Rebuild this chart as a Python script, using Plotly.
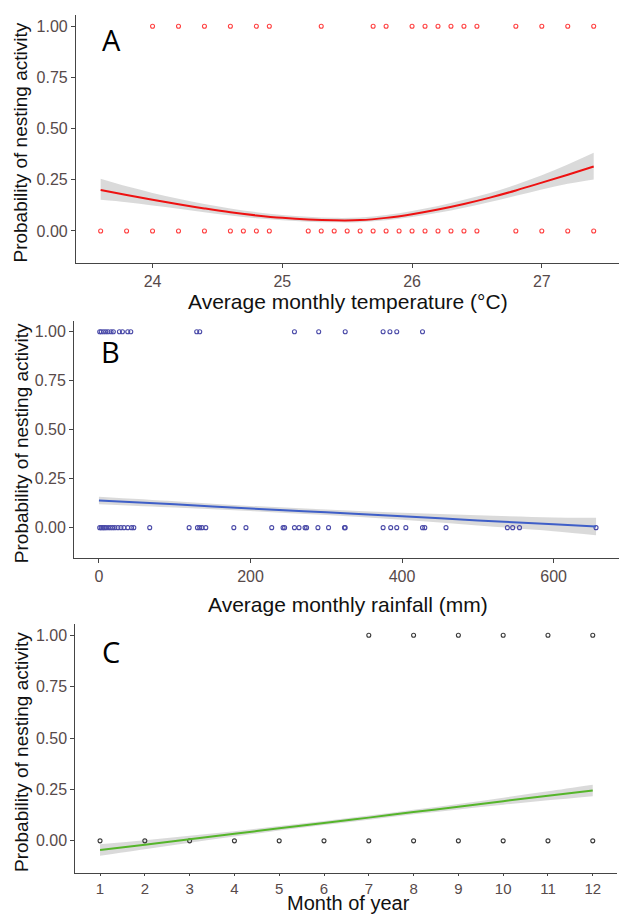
import plotly.graph_objects as go

# ---------------- data ----------------
# Panel A: temperature
A_top = [24.0, 24.2, 24.4, 24.6, 24.8, 24.9, 25.3, 25.7, 25.8, 26.0, 26.1, 26.2,
         26.3, 26.4, 26.5, 26.8, 27.0, 27.2, 27.4]
A_bottom = [23.6, 23.8, 24.0, 24.2, 24.4, 24.6, 24.7, 24.8, 24.9, 25.2, 25.3, 25.4,
            25.5, 25.6, 25.7, 25.8, 25.9, 26.0, 26.1, 26.2, 26.3, 26.4, 26.5, 26.8,
            27.0, 27.2, 27.4]
A_grid = [23.6, 23.8, 24.0, 24.2, 24.4, 24.6, 24.8, 25.0, 25.2, 25.4, 25.6, 25.8,
          26.0, 26.2, 26.4, 26.6, 26.8, 27.0, 27.2, 27.4]
A_fit = [0.200, 0.176, 0.153, 0.131, 0.110, 0.091, 0.076, 0.064, 0.056, 0.052,
         0.053, 0.064, 0.082, 0.105, 0.132, 0.163, 0.198, 0.236, 0.275, 0.315]
A_lo = [0.152, 0.140, 0.124, 0.108, 0.091, 0.075, 0.062, 0.052, 0.045, 0.042,
        0.043, 0.052, 0.068, 0.089, 0.114, 0.142, 0.172, 0.203, 0.231, 0.252]
A_hi = [0.255, 0.218, 0.186, 0.157, 0.132, 0.110, 0.092, 0.078, 0.069, 0.064,
        0.066, 0.078, 0.098, 0.122, 0.152, 0.185, 0.226, 0.272, 0.325, 0.382]

# Panel B: rainfall
B_top = [1, 3, 6, 9, 12, 16, 19, 27, 31, 38, 42, 129, 133, 258, 290, 325, 375,
         384, 393, 427]
B_bottom = [1, 3, 5, 7, 9, 12, 15, 18, 21, 25, 29, 33, 38, 43, 46, 67, 119, 130,
            133, 136, 141, 178, 194, 228, 243, 245, 258, 264, 272, 274, 289, 303,
            324, 325, 375, 385, 393, 405, 427, 430, 458, 539, 546, 555, 656]
B_grid = [0, 100, 200, 300, 400, 500, 600, 656]
B_fit = [0.139, 0.119, 0.098, 0.078, 0.058, 0.037, 0.017, 0.006]
B_lo = [0.120, 0.103, 0.085, 0.064, 0.040, 0.011, -0.018, -0.039]
B_hi = [0.158, 0.135, 0.111, 0.092, 0.076, 0.063, 0.052, 0.051]

# Panel C: month
C_top = [7, 8, 9, 10, 11, 12]
C_bottom = [1, 2, 3, 4, 5, 6, 7, 8, 9, 10, 11, 12]
C_grid = [1, 2, 3, 4, 5, 6, 7, 8, 9, 10, 11, 12]
C_fit = [-0.045, -0.019, 0.008, 0.034, 0.061, 0.087, 0.113, 0.140, 0.166, 0.193,
         0.219, 0.245]
C_lo = [-0.073, -0.041, -0.009, 0.021, 0.050, 0.077, 0.103, 0.129, 0.153, 0.176,
        0.197, 0.217]
C_hi = [-0.017, 0.003, 0.025, 0.047, 0.072, 0.097, 0.123, 0.151, 0.179, 0.210,
        0.241, 0.273]

NEST, NONE = 1, 0
y_ticks = [0, 0.25, 0.5, 0.75, 1.0]
y_ticktext = ["0.00", "0.25", "0.50", "0.75", "1.00"]

FONT = "Arial, 'Liberation Sans', sans-serif"
TICKC = "#574a4a"
AXC = "#454545"
W, H = 619, 915

panels = [
    dict(ax="", top=A_top, bot=A_bottom, grid=A_grid, fit=A_fit, lo=A_lo, hi=A_hi,
         pcol="#ff4040", lcol="#ee1111", xr=[23.41, 27.595], dom_x=[76, 619],
         dom_y=[15, 262.7], xt=[24, 25, 26, 27], xtt=["24", "25", "26", "27"],
         title="Average monthly temperature (°C)", ty=302, tsize=21, xtick=16, tlen=4,
         label="A", ly=0.935, lx=0.066),
    dict(ax="2", top=B_top, bot=B_bottom, grid=B_grid, fit=B_fit, lo=B_lo, hi=B_hi,
         pcol="#4a4aa8", lcol="#3f5fc8", xr=[-32.8, 686.3], dom_x=[74.1, 619],
         dom_y=[321, 558], xt=[0, 200, 400, 600], xtt=["0", "200", "400", "600"],
         title="Average monthly rainfall (mm)", ty=604, tsize=21, xtick=16, tlen=4,
         label="B", ly=0.9, lx=0.066),
    dict(ax="3", top=C_top, bot=C_bottom, grid=C_grid, fit=C_fit, lo=C_lo, hi=C_hi,
         pcol="#3a3a3a", lcol="#55b52a", xr=[0.45, 12.55], dom_x=[75.4, 617.4],
         dom_y=[624, 872.7], xt=C_grid, xtt=[str(m) for m in C_grid],
         title="Month of year", ty=None, tsize=20, xtick=15, tlen=2,
         label="C", ly=0.92, lx=0.066),
]

fig = go.Figure()
annotations = []
layout = {}
for p in panels:
    xa, ya = "x" + p["ax"], "y" + p["ax"]
    # CI band
    fig.add_trace(go.Scatter(x=p["grid"], y=p["lo"], mode="lines", line=dict(width=0, shape="spline"),
                             xaxis=xa, yaxis=ya, showlegend=False, hoverinfo="skip"))
    fig.add_trace(go.Scatter(x=p["grid"], y=p["hi"], mode="lines", line=dict(width=0, shape="spline"),
                             fill="tonexty", fillcolor="rgba(205,205,205,0.75)",
                             xaxis=xa, yaxis=ya, showlegend=False, hoverinfo="skip"))
    # points
    for xs, yv in ((p["top"], NEST), (p["bot"], NONE)):
        fig.add_trace(go.Scatter(x=xs, y=[yv] * len(xs), mode="markers",
                                 marker=dict(symbol="circle-open", size=4, color=p["pcol"],
                                             line=dict(width=1.1, color=p["pcol"])),
                                 xaxis=xa, yaxis=ya, showlegend=False))
    # fit line
    fig.add_trace(go.Scatter(x=p["grid"], y=p["fit"], mode="lines",
                             line=dict(color=p["lcol"], width=2, shape="spline"),
                             xaxis=xa, yaxis=ya, showlegend=False))

    common = dict(showgrid=False, zeroline=False, showline=True, linecolor=AXC, linewidth=1.2,
                  ticks="outside", tickcolor=AXC, tickwidth=1.2)
    layout["xaxis" + p["ax"]] = dict(common, range=p["xr"], ticklen=p["tlen"],
                                     domain=[p["dom_x"][0] / W, p["dom_x"][1] / W],
                                     tickvals=p["xt"], ticktext=p["xtt"], anchor=ya,
                                     tickfont=dict(family=FONT, size=p["xtick"], color=TICKC))
    layout["yaxis" + p["ax"]] = dict(common, range=[-0.155, 1.055], ticklen=4,
                                     domain=[1 - p["dom_y"][1] / H, 1 - p["dom_y"][0] / H],
                                     tickvals=y_ticks, ticktext=y_ticktext, anchor=xa,
                                     tickfont=dict(family=FONT, size=16, color=TICKC))
    # axis titles
    if p["ty"] is None:
        annotations.append(dict(text=p["title"], x=348 / W, y=0, xref="paper", yref="paper",
                                showarrow=False, font=dict(family=FONT, size=p["tsize"], color="#111111"),
                                xanchor="center", yanchor="bottom", borderpad=0))
    else:
        annotations.append(dict(text=p["title"], x=348 / W, y=1 - p["ty"] / H, xref="paper", yref="paper",
                                showarrow=False, font=dict(family=FONT, size=p["tsize"], color="#111111"),
                                xanchor="center", yanchor="middle", borderpad=0))
    annotations.append(dict(text="Probability of nesting activity", x=21 / W,
                            y=1 - (p["dom_y"][0] + p["dom_y"][1]) / 2 / H - 0.004,
                            xref="paper", yref="paper", textangle=-90, showarrow=False,
                            font=dict(family=FONT, size=19, color="#111111"),
                            xanchor="center", yanchor="middle"))
    # panel letter
    annotations.append(dict(text=p["label"], x=p["lx"], y=p["ly"], xref=xa + " domain", yref=ya,
                            showarrow=False, font=dict(family="Open Sans, sans-serif", size=29, color="#000000"),
                            xanchor="center", yanchor="middle"))

fig.update_layout(width=W, height=H, margin=dict(l=0, r=0, t=0, b=0),
                  paper_bgcolor="white", plot_bgcolor="white",
                  annotations=annotations, **layout)
fig.write_html("out.html", config={"displayModeBar": False},
               post_script="document.body.style.margin='0';document.body.style.overflow='hidden';")
